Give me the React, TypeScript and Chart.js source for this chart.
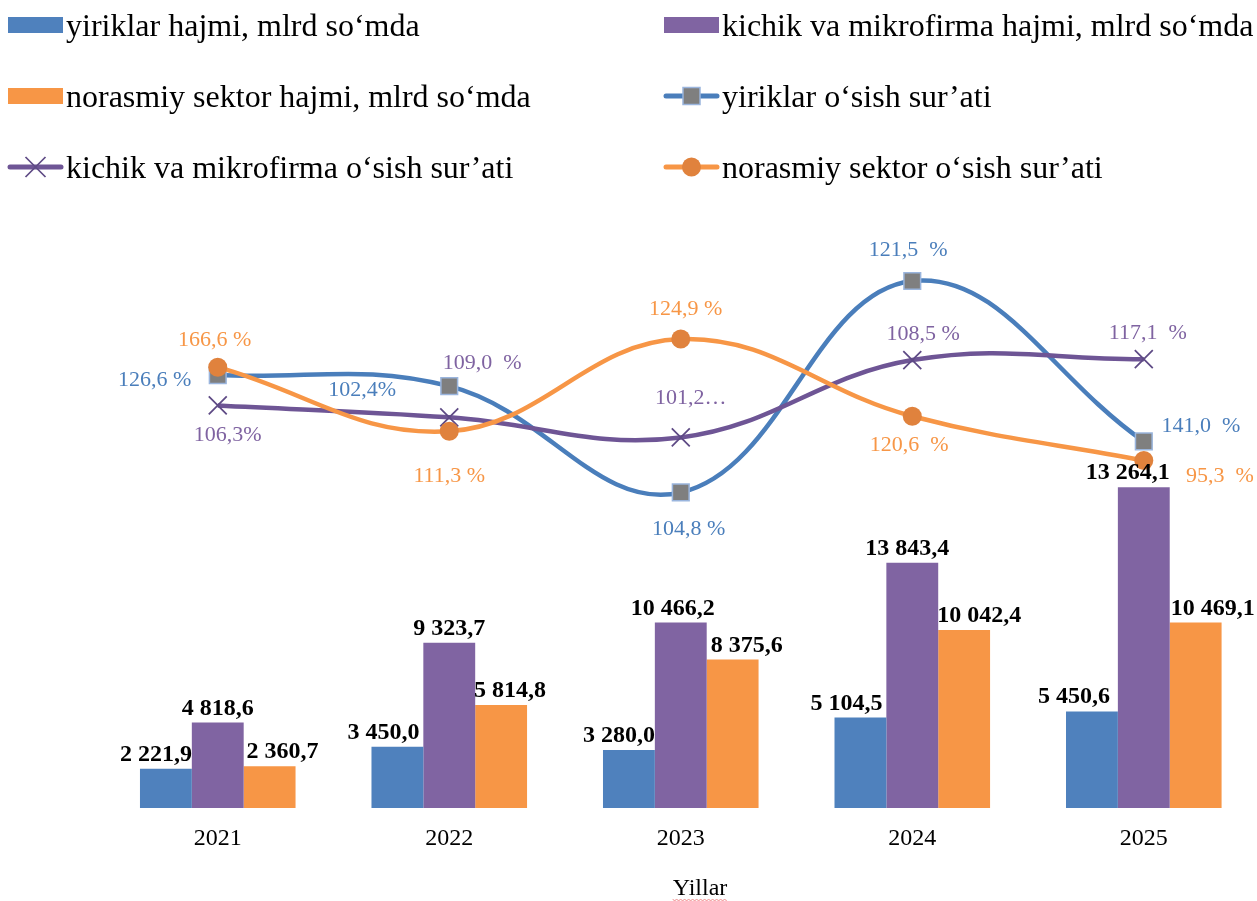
import React, { useEffect, useRef } from "react";
import { Chart, registerables } from "chart.js";

Chart.register(...registerables);

// ---------------- data ----------------
const years = ["2021", "2022", "2023", "2024", "2025"];

const largeVolume = [2221.9, 3450.0, 3280.0, 5104.5, 5450.6];
const smallVolume = [4818.6, 9323.7, 10466.2, 13843.4, 18100.0];
const informalVolume = [2360.7, 5814.8, 8375.6, 10042.4, 10469.1];

const largeVolumeLabels = ["2 221,9", "3 450,0", "3 280,0", "5 104,5", "5 450,6"];
const smallVolumeLabels = ["4 818,6", "9 323,7", "10 466,2", "13 843,4", "13 264,1"];
const informalVolumeLabels = ["2 360,7", "5 814,8", "8 375,6", "10 042,4", "10 469,1"];

// plotted positions of the growth lines (secondary, hidden axis)
const largeGrowth = [152.7, 148.8, 111.3, 185.9, 129.3];
const smallGrowth = [142.0, 137.8, 130.7, 158.0, 158.3];
const informalGrowth = [155.5, 132.9, 165.4, 138.2, 122.6];

const largeGrowthLabels = ["126,6 %", "102,4%", "104,8 %", "121,5  %", "141,0  %"];
const smallGrowthLabels = ["106,3%", "109,0  %", "101,2…", "108,5 %", "117,1  %"];
const informalGrowthLabels = ["166,6 %", "111,3 %", "124,9 %", "120,6  %", "95,3  %"];

const seriesNames = [
  "yiriklar hajmi, mlrd so‘mda",
  "kichik va mikrofirma hajmi, mlrd so‘mda",
  "norasmiy sektor hajmi, mlrd so‘mda",
  "yiriklar o‘sish sur’ati",
  "kichik va mikrofirma o‘sish sur’ati",
  "norasmiy sektor o‘sish sur’ati",
];
const axisTitle = "Yillar";

// ---------------- layout / style ----------------
const FONT = "'Liberation Serif', 'Times New Roman', serif";
const BLUE = "#4f81bd";
const PURPLE = "#8064a2";
const ORANGE = "#f79646";
const BLUE_LINE = "#4a7ebb";
const PURPLE_LINE = "#6e5595";
const ORANGE_LINE = "#f79646";
const SQUARE_FILL = "#7f7f7f";
const SQUARE_BORDER = "#9ab5dd";
const CIRCLE_FILL = "#e0823d";
const CROSS_COLOR = "#5e4a85";

const barLabelShift = [
  [-10, -14, -10, -14, -18],
  [0, 0, -8, -5, -16],
  [13, 9, 14, 15, 17],
];
const growthLabelOffsets = [
  [[-63, 5], [-87, 4], [8, 37], [-4, -31], [57, -15]],
  [[10, 30], [33, -54], [10, -39], [11, -26], [4, -26]],
  [[-3, -27], [0, 45], [5, -30], [-3, 29], [76, 16]],
];
const growthLabelColors = [BLUE_LINE, "#7f63a1", ORANGE];

const legendCols = [8, 664];
const legendRows = [25, 96, 167];

function drawMarker(ctx: CanvasRenderingContext2D, kind: string, x: number, y: number) {
  if (kind === "rect") {
    const s = 8.5;
    ctx.fillStyle = SQUARE_FILL;
    ctx.fillRect(x - s, y - s, 2 * s, 2 * s);
    ctx.strokeStyle = SQUARE_BORDER;
    ctx.lineWidth = 1.5;
    ctx.strokeRect(x - s, y - s, 2 * s, 2 * s);
  } else if (kind === "circle") {
    ctx.fillStyle = CIRCLE_FILL;
    ctx.beginPath();
    ctx.arc(x, y, 9.5, 0, Math.PI * 2);
    ctx.fill();
  } else {
    const s = 10;
    ctx.strokeStyle = CROSS_COLOR;
    ctx.lineWidth = 1.75;
    ctx.beginPath();
    ctx.moveTo(x - s, y - s);
    ctx.lineTo(x + s, y + s);
    ctx.moveTo(x + s, y - s);
    ctx.lineTo(x - s, y + s);
    ctx.stroke();
  }
}

const annotatePlugin = {
  id: "annotate",
  afterDatasetsDraw(chart: any) {
    const ctx: CanvasRenderingContext2D = chart.ctx;
    ctx.save();
    // bar value labels
    const barLabelSets = [largeVolumeLabels, smallVolumeLabels, informalVolumeLabels];
    ctx.font = `bold 24px ${FONT}`;
    ctx.fillStyle = "#000";
    ctx.textAlign = "center";
    ctx.textBaseline = "alphabetic";
    barLabelSets.forEach((labels, di) => {
      const meta = chart.getDatasetMeta(di);
      meta.data.forEach((el: any, i: number) => {
        ctx.fillText(labels[i], el.x + barLabelShift[di][i], el.y - 8);
      });
    });
    // growth labels
    const growthLabelSets = [largeGrowthLabels, smallGrowthLabels, informalGrowthLabels];
    ctx.font = `22px ${FONT}`;
    ctx.textBaseline = "middle";
    growthLabelSets.forEach((labels, k) => {
      const meta = chart.getDatasetMeta(3 + k);
      ctx.fillStyle = growthLabelColors[k];
      meta.data.forEach((el: any, i: number) => {
        const [dx, dy] = growthLabelOffsets[k][i];
        ctx.fillText(labels[i], el.x + dx, el.y + dy);
      });
    });
    ctx.restore();
  },
  afterDraw(chart: any) {
    const ctx: CanvasRenderingContext2D = chart.ctx;
    ctx.save();
    // legend (2 columns)
    chart.data.datasets.forEach((ds: any, idx: number) => {
      const x = legendCols[idx % 2];
      const y = legendRows[Math.floor(idx / 2)];
      if (ds.type === "bar") {
        ctx.fillStyle = ds.backgroundColor;
        ctx.fillRect(x, y - 8, 55, 16);
      } else {
        ctx.strokeStyle = ds.borderColor;
        ctx.lineWidth = 5;
        ctx.lineCap = "round";
        ctx.beginPath();
        ctx.moveTo(x + 2, y);
        ctx.lineTo(x + 53, y);
        ctx.stroke();
        ctx.lineCap = "butt";
        drawMarker(ctx, ds.pointStyle, x + 27.5, y);
      }
      ctx.fillStyle = "#000";
      ctx.font = `32px ${FONT}`;
      ctx.textAlign = "left";
      ctx.textBaseline = "middle";
      ctx.fillText(ds.label, x + 58, y + 3);
    });
    // axis title
    ctx.font = `24px ${FONT}`;
    ctx.fillStyle = "#000";
    ctx.textAlign = "center";
    ctx.textBaseline = "middle";
    const tx = 700;
    const ty = 889;
    ctx.fillText(axisTitle, tx, ty);
    const w = ctx.measureText(axisTitle).width;
    ctx.strokeStyle = "#ee8888";
    ctx.lineWidth = 1;
    ctx.beginPath();
    for (let px = tx - w / 2, k = 0; px <= tx + w / 2; px += 2, k++) {
      const py = 899.5 + (k % 2 === 0 ? 0 : 1);
      if (k === 0) ctx.moveTo(px, py);
      else ctx.lineTo(px, py);
    }
    ctx.stroke();
    ctx.restore();
  },
};

export default function App() {
  const ref = useRef<HTMLCanvasElement>(null);

  useEffect(() => {
    const canvas = ref.current;
    if (!canvas) return;
    const barCommon = {
      type: "bar",
      yAxisID: "y",
      order: 10,
      barPercentage: 1,
      categoryPercentage: 0.672,
    };
    const chart = new Chart(canvas, {
      type: "bar",
      data: {
        labels: years,
        datasets: [
          { ...barCommon, label: seriesNames[0], data: largeVolume, backgroundColor: BLUE },
          { ...barCommon, label: seriesNames[1], data: smallVolume, backgroundColor: PURPLE },
          { ...barCommon, label: seriesNames[2], data: informalVolume, backgroundColor: ORANGE },
          {
            type: "line",
            label: seriesNames[3],
            data: largeGrowth,
            borderColor: BLUE_LINE,
            borderWidth: 4.5,
            tension: 0.4,
            fill: false,
            yAxisID: "y1",
            order: 3,
            pointStyle: "rect",
            pointRadius: 11.8,
            pointBackgroundColor: SQUARE_FILL,
            pointBorderColor: SQUARE_BORDER,
            pointBorderWidth: 1.5,
          },
          {
            type: "line",
            label: seriesNames[4],
            data: smallGrowth,
            borderColor: PURPLE_LINE,
            borderWidth: 4.5,
            tension: 0.4,
            fill: false,
            yAxisID: "y1",
            order: 2,
            pointStyle: "crossRot",
            pointRadius: 12.7,
            pointBackgroundColor: CROSS_COLOR,
            pointBorderColor: CROSS_COLOR,
            pointBorderWidth: 1.75,
          },
          {
            type: "line",
            label: seriesNames[5],
            data: informalGrowth,
            borderColor: ORANGE_LINE,
            borderWidth: 4.5,
            tension: 0.4,
            fill: false,
            yAxisID: "y1",
            order: 1,
            pointStyle: "circle",
            pointRadius: 9.5,
            pointBackgroundColor: CIRCLE_FILL,
            pointBorderColor: CIRCLE_FILL,
            pointBorderWidth: 0,
          },
        ] as any,
      },
      options: {
        responsive: false,
        animation: false,
        events: [],
        layout: { padding: { top: 241, left: 102, right: 0, bottom: 31 } },
        plugins: {
          legend: { display: false },
          tooltip: { enabled: false },
        },
        scales: {
          x: {
            type: "category",
            offset: true,
            grid: { display: false, drawTicks: false },
            border: { display: false },
            ticks: {
              color: "#000",
              padding: 19,
              font: { family: FONT, size: 24, lineHeight: 1 },
            },
          },
          y: {
            display: false,
            min: 0,
            max: 32000,
          },
          y1: {
            display: false,
            position: "right",
            min: 0,
            max: 200,
          },
        },
      } as any,
      plugins: [annotatePlugin],
    });
    return () => chart.destroy();
  }, []);

  return (
    <div
      style={{
        position: "fixed",
        left: 0,
        top: 0,
        width: 1257,
        height: 901,
        overflow: "hidden",
        background: "#fff",
      }}
    >
      <canvas ref={ref} width={1274} height={901} style={{ display: "block" }} />
    </div>
  );
}
